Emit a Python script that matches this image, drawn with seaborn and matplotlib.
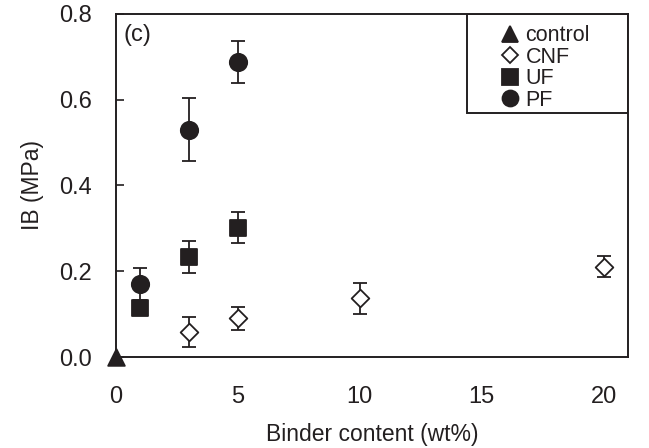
import matplotlib
matplotlib.use('Agg')
import numpy as np
import pandas as pd
import seaborn as sns
import matplotlib.pyplot as plt
from matplotlib.patches import Rectangle
from matplotlib.lines import Line2D

# values
control_x = [0]
control_y = [0.0]

cnf_x = [3, 5, 10, 20]
cnf_y = [0.059, 0.090, 0.137, 0.211]
cnf_err = [0.035, 0.026, 0.036, 0.025]

uf_x = [1, 3, 5]
uf_y = [0.114, 0.234, 0.302]
uf_err = [0.0, 0.037, 0.037]

pf_x = [1, 3, 5]
pf_y = [0.170, 0.530, 0.688]
pf_err = [0.037, 0.073, 0.048]

groups = ['control', 'CNF', 'UF', 'PF']
marker_map = {'control': '^', 'CNF': 'D', 'UF': 's', 'PF': 'o'}
size_map = {'control': 12, 'CNF': 9, 'UF': 12, 'PF': 12.5}

df = pd.concat([
    pd.DataFrame({'x': control_x, 'y': control_y, 'err': [0.0], 'group': 'control'}),
    pd.DataFrame({'x': cnf_x, 'y': cnf_y, 'err': cnf_err, 'group': 'CNF'}),
    pd.DataFrame({'x': uf_x, 'y': uf_y, 'err': uf_err, 'group': 'UF'}),
    pd.DataFrame({'x': pf_x, 'y': pf_y, 'err': pf_err, 'group': 'PF'}),
], ignore_index=True)

sns.set_style('white')
plt.rcParams['font.family'] = ['Liberation Sans', 'DejaVu Sans']

fig = plt.figure(figsize=(6.49, 4.48), dpi=100)
ax = fig.add_axes([0.1787, 0.2031, 0.7889, 0.7657])

ink = '#231f20'

# error bars first so markers sit on top
for g in groups:
    sub = df[df['group'] == g]
    ax.errorbar(sub['x'], sub['y'], yerr=sub['err'], fmt='none',
                ecolor=ink, elinewidth=1.3, capsize=5, capthick=1.3, zorder=2)

for g in groups:
    sub = df[df['group'] == g]
    face = 'white' if g == 'CNF' else ink
    sns.scatterplot(data=sub, x='x', y='y', marker=marker_map[g],
                    s=size_map[g] ** 2, color=face, edgecolor=ink,
                    linewidth=1.3, ax=ax, zorder=3, clip_on=False, legend=False)

ax.set_xlim(0, 21)
ax.set_ylim(0, 0.8)
ax.set_xticks([0, 5, 10, 15, 20])
ax.set_yticks([0.0, 0.2, 0.4, 0.6, 0.8])
ax.set_yticklabels(['0.0', '0.2', '0.4', '0.6', '0.8'])
ax.tick_params(axis='y', direction='in', length=6, width=1.2, color=ink,
               pad=17, labelsize=17, labelcolor=ink, left=True)
ax.tick_params(axis='x', length=0, pad=21, labelsize=17, labelcolor=ink)

for sp in ax.spines.values():
    sp.set_color(ink)
    sp.set_linewidth(1.4)

ax.set_xlabel('Binder content (wt%)', fontsize=16.5, color=ink, labelpad=11)
ax.set_ylabel('IB (MPa)', fontsize=16.5, color=ink, labelpad=11)

ax.text(0.014, 0.972, '(c)', transform=ax.transAxes, fontsize=17,
        color=ink, va='top', ha='left')

# legend box
ax.add_patch(Rectangle((0.6855, 0.711), 0.3145, 0.289, transform=ax.transAxes,
                       fill=False, edgecolor=ink, linewidth=1.4, zorder=4))
handles = []
for g in groups:
    face = 'white' if g == 'CNF' else ink
    handles.append(Line2D([], [], linestyle='none', marker=marker_map[g],
                          markersize=size_map[g] * 0.92, markerfacecolor=face,
                          markeredgecolor=ink, markeredgewidth=1.3))
leg = ax.legend(handles, groups, loc='upper left', bbox_to_anchor=(0.745, 0.979),
                frameon=False, fontsize=15.5, handlelength=0.8, handletextpad=0.3,
                labelspacing=0.02, borderpad=0.2, borderaxespad=0)
for t in leg.get_texts():
    t.set_color(ink)

fig.savefig('out.png', dpi=100)
